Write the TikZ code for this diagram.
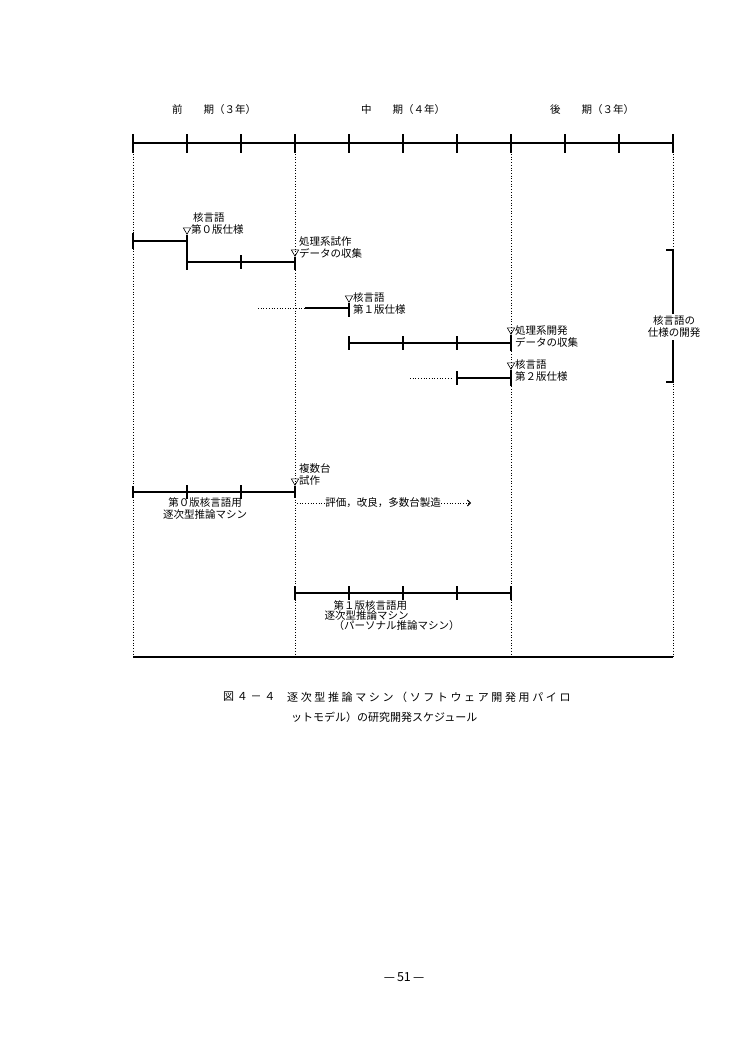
\documentclass[tikz,border=0pt]{standalone}
\usepackage{fontspec}
\setmainfont{Noto Sans CJK JP}
\usetikzlibrary{positioning}
\usetikzlibrary{calc}
\usetikzlibrary{shapes.geometric}
\usetikzlibrary{arrows.meta}

\tikzset{
  phase/.style={line width=1.1pt},
  guide/.style={line width=0.9pt, dash pattern=on 0.9pt off 1.8pt},
  milestone/.style={draw, regular polygon, regular polygon sides=3,
    shape border rotate=180, minimum size=8.5pt, inner sep=0pt, line width=0.6pt},
  lbl/.style={font=\fontsize{10.5}{12}\selectfont, align=left, inner sep=0.5pt},
  head/.style={font=\fontsize{10.5}{12}\selectfont, inner sep=0pt},
  captext/.style={font=\fontsize{11}{13}\selectfont, inner sep=0pt},
}

\begin{document}
\begin{tikzpicture}[x=1pt,y=-1pt]
  \useasboundingbox (0,0) rectangle (750,1054);

  % time axis
  \foreach \i in {0,...,10}
    \coordinate (t\i) at ({133+54*\i},143);
  \foreach \i in {0,3,7,10}
    \coordinate (b\i) at ({133+54*\i},657);
  \draw[phase] (t0) -- (t10);
  \foreach \i in {0,...,10}
    \draw[phase] (t\i) ++(0,-9) -- ++(0,19);
  \foreach \i in {0,3,7,10}
    \draw[guide] (t\i) ++(0,11) -- (b\i);
  \draw[phase] (b0) -- (b10);

  \node[head] (early) at ($(t0)!.5!(t3)+(0,-33)$) {前　　期（３年）};
  \node[head] (mid) at ($(t3)!.5!(t7)+(0,-33)$) {中　　期（４年）};
  \node[head] (late) at ($(t7)!.5!(t10)+(0,-33)$) {後　　期（３年）};

  \coordinate (rA) at (0,241);
  \coordinate (rB) at (0,262);
  \coordinate (rC) at (0,308);
  \coordinate (rD) at (0,343);
  \coordinate (rE) at (0,378);
  \coordinate (rF) at (0,492);
  \coordinate (rG) at (0,593);

  % milestones
  \node[milestone] (m0) at (187,230) {};
  \node[milestone] (m1) at (295,252) {};
  \node[milestone] (m2) at (349,298) {};
  \node[milestone] (m3) at (511,330) {};
  \node[milestone] (m4) at (511,365) {};
  \node[milestone] (m5) at (295,481) {};
  \coordinate (m0e) at (187,270);
  \coordinate (m1e) at (295,270);
  \coordinate (m2e) at (349,317);
  \coordinate (m3e) at (511,351);
  \coordinate (m4e) at (511,386);
  \coordinate (m5e) at (295,498);
  \foreach \m in {0,...,5}
    \draw[phase] (m\m.corner 1) -- (m\m e);

  \node[lbl, anchor=west] (lab0) at ([xshift=0.5pt,yshift=6pt]m0.east) {\hspace*{2pt}核言語\\第０版仕様};
  \node[lbl, anchor=west] (lab1) at ([xshift=0.5pt,yshift=4pt]m1.east) {処理系試作\\データの収集};
  \node[lbl, anchor=west] (lab2) at ([xshift=0.5pt,yshift=-6pt]m2.east) {核言語\\第１版仕様};
  \node[lbl, anchor=west] (lab3) at ([xshift=0.5pt,yshift=-7pt]m3.east) {処理系開発\\データの収集};
  \node[lbl, anchor=west] (lab4) at ([xshift=0.5pt,yshift=-6pt]m4.east) {核言語\\第２版仕様};
  \node[lbl, anchor=west] (lab5) at ([xshift=0.5pt,yshift=7pt]m5.east) {複数台\\試作};

  % kernel language specification
  \draw[phase] (t0 |- rA) -- (t1 |- rA);
  \draw[phase] (t0 |- rA) ++(0,-8) -- ++(0,16);
  \draw[phase] (t1 |- rB) -- (t3 |- rB);
  \draw[phase] (t2 |- rB) ++(0,-7) -- ++(0,14);
  \coordinate (c0) at (258,308);
  \coordinate (c1) at (305,308);
  \draw[guide] (c0) -- (c1);
  \draw[phase] (c1) -- (t4 |- rC);
  \draw[phase] (t4 |- rD) -- (t7 |- rD);
  \foreach \i in {4,5,6}
    \draw[phase] (t\i |- rD) ++(0,-7) -- ++(0,14);
  \coordinate (e0) at (410,378);
  \coordinate (e1) at (452,378);
  \draw[guide] (e0) -- (e1);
  \draw[phase] (t6 |- rE) -- (t7 |- rE);
  \draw[phase] (t6 |- rE) ++(0,-7) -- ++(0,14);

  \coordinate (k0) at (666,250);
  \coordinate (k1) at (673,250);
  \coordinate (k2) at (673,382);
  \coordinate (k3) at (666,382);
  \draw[phase] (k0) -- (k1) -- (k2) -- (k3);
  \node[lbl, align=center, fill=white, inner sep=2pt] (spec) at (674,327) {核言語の\\仕様の開発};

  % machines
  \draw[phase] (t0 |- rF) -- (t3 |- rF);
  \draw[phase] (t0 |- rF) ++(0,-6) -- ++(0,12);
  \foreach \i in {1,2}
    \draw[phase] (t\i |- rF) ++(0,-7) -- ++(0,14);
  \node[lbl, align=center] (mach0) at (205,508) {第０版核言語用\\逐次型推論マシン};
  \node[lbl] (eval) at (383,503) {評価，改良，多数台製造};
  \coordinate (evalend) at (471,503);
  \draw[guide] ([xshift=2pt]t3 |- eval) -- (eval.west);
  \draw[guide, -{Straight Barb[length=3pt]}] (eval.east) -- (evalend);

  \draw[phase] (t3 |- rG) -- (t7 |- rG);
  \foreach \i in {3,...,7}
    \draw[phase] (t\i |- rG) ++(0,-7) -- ++(0,14);
  \node[lbl, font=\fontsize{10.5}{10}\selectfont, anchor=west] (mach1) at (324,615.5)
    {\hspace*{9pt}第１版核言語用\\逐次型推論マシン\\\hspace*{9pt}（パーソナル推論マシン）};

  % caption
  \node[captext, anchor=west] (fig) at (223,697)
    {\addfontfeature{LetterSpace=25}図４－４};
  \node[captext, anchor=west] (title1) at (287,697)
    {\addfontfeature{LetterSpace=23.8}逐次型推論マシン（ソフトウェア開発用パイロ};
  \node[captext, anchor=west] (title2) at (291,717) {ットモデル）の研究開発スケジュール};
  \node[captext, font=\fontsize{12.5}{14}\selectfont] (page) at (404,977) {—\,51\,—};
\end{tikzpicture}
\end{document}
